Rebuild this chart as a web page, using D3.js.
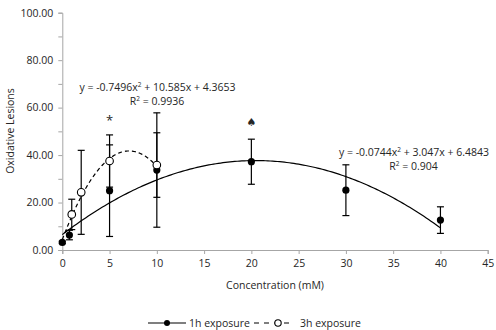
<!DOCTYPE html>
<html><head><meta charset="utf-8">
<script src="https://cdn.jsdelivr.net/npm/d3@7/dist/d3.min.js"></script>
<style>body{margin:0;background:#fff;} svg{display:block;} text{font-family:"Open Sans",sans-serif;fill:#262626;}</style>
</head><body><svg id="c" width="496" height="330"></svg>
<script>
// Data
const conc1h = [0, 0.75, 5, 10, 20, 30, 40];
const mean1h = [3.2, 6.3, 25.0, 33.7, 37.2, 25.2, 12.6];
const err1h  = [0.5, 2.0, 19.3, 24.1, 9.5, 10.7, 5.6];
const conc3h = [1, 2, 5, 10];
const mean3h = [15.0, 24.3, 37.5, 35.8];
const err3h  = [6.4, 17.7, 11.0, 13.6];
const fit1h = [-0.0744, 3.047, 6.4843];   // a, b, c
const fit3h = [-0.7496, 10.585, 4.3653];
const yTicks = [0, 10, 20, 30, 40, 50, 60, 70, 80, 90, 100];
const xTicks = [0, 5, 10, 15, 20, 25, 30, 35, 40, 45];
const labels = {
  eq3h: "y = -0.7496x² + 10.585x + 4.3653", r3h: "R² = 0.9936",
  eq1h: "y = -0.0744x² + 3.047x + 6.4843", r1h: "R² = 0.904",
  xTitle: "Concentration (mM)", yTitle: "Oxidative Lesions",
  leg1: "1h exposure", leg3: "3h exposure"
};

const svg = d3.select("#c");
const x = d3.scaleLinear().domain([0, 45]).range([62.3, 487.7]);
const y = d3.scaleLinear().domain([0, 100]).range([250, 12.7]);
const axisCol = "#a6a6a6";

// Y axis
const ya = svg.append("g").attr("transform", `translate(${x(0)},0)`)
  .call(d3.axisLeft(y).tickValues(yTicks).tickSize(4).tickFormat(d => d % 20 === 0 ? d3.format(".2f")(d) : ""));
ya.select(".domain").attr("stroke", axisCol);
ya.selectAll(".tick line").attr("stroke", axisCol);
ya.selectAll(".tick text").attr("font-size", 10.5).attr("x", -9).style("font-family", "'Open Sans',sans-serif").attr("fill", "#262626");

// X axis
const xa = svg.append("g").attr("transform", `translate(0,${y(0)})`)
  .call(d3.axisBottom(x).tickValues(xTicks).tickSize(4).tickFormat(d3.format("d")));
xa.select(".domain").attr("stroke", axisCol);
xa.selectAll(".tick line").attr("stroke", axisCol);
xa.selectAll(".tick text").attr("font-size", 10.5).attr("y", 10).style("font-family", "'Open Sans',sans-serif").attr("fill", "#262626");

// Fit curves
const poly = (f, t) => f[0]*t*t + f[1]*t + f[2];
const line = d3.line().x(d => x(d[0])).y(d => y(d[1]));
svg.append("path").attr("d", line(d3.range(0, 40.01, 0.25).map(t => [t, poly(fit1h, t)])))
  .attr("fill", "none").attr("stroke", "#000").attr("stroke-width", 1.2);
svg.append("path").attr("d", line(d3.range(0, 10.01, 0.1).map(t => [t, poly(fit3h, t)])))
  .attr("fill", "none").attr("stroke", "#000").attr("stroke-width", 1.2).attr("stroke-dasharray", "4,3");

// Error bars
function errBars(cs, ms, es) {
  const g = svg.append("g").attr("stroke", "#000").attr("stroke-width", 1.2);
  cs.forEach((c, i) => {
    const cx = x(c), t = y(ms[i] + es[i]), b = y(ms[i] - es[i]);
    g.append("line").attr("x1", cx).attr("x2", cx).attr("y1", t).attr("y2", b);
    g.append("line").attr("x1", cx-3.5).attr("x2", cx+3.5).attr("y1", t).attr("y2", t);
    g.append("line").attr("x1", cx-3.5).attr("x2", cx+3.5).attr("y1", b).attr("y2", b);
  });
}
errBars(conc1h, mean1h, err1h);
errBars(conc3h, mean3h, err3h);

// Markers
svg.append("g").selectAll("circle").data(conc1h).join("circle")
  .attr("cx", d => x(d)).attr("cy", (d, i) => y(mean1h[i])).attr("r", 3.6).attr("fill", "#000");
svg.append("g").selectAll("circle").data(conc3h).join("circle")
  .attr("cx", d => x(d)).attr("cy", (d, i) => y(mean3h[i])).attr("r", 3.8)
  .attr("fill", "#fff").attr("stroke", "#000").attr("stroke-width", 1.1);

// Annotations
function eq(txt, cx, cy) {
  const parts = txt.split("²");
  const t = svg.append("text").attr("x", cx).attr("y", cy).attr("text-anchor", "middle").attr("font-size", 10.5);
  parts.forEach((p, i) => {
    const s = t.append("tspan").text(p);
    if (i > 0) s.attr("dy", 4);
    if (i < parts.length - 1) t.append("tspan").text("2").attr("font-size", 6.5).attr("dy", -4);
  });
}
eq(labels.eq3h, 157.5, 90.5);
eq(labels.r3h, 157, 105);
eq(labels.eq1h, 414, 155.5);
eq(labels.r1h, 413.5, 170);
svg.append("text").attr("x", x(5)).attr("y", 125).attr("text-anchor", "middle").attr("font-size", 13).text("*");
svg.append("text").attr("x", x(20)).attr("y", 126).attr("text-anchor", "middle").attr("font-size", 11).style("font-family","'DejaVu Sans',sans-serif").text("♠");

// Titles
svg.append("text").attr("x", 275).attr("y", 289).attr("text-anchor", "middle").attr("font-size", 10.5).text(labels.xTitle);
svg.append("text").attr("transform", "translate(14,131) rotate(-90)").attr("text-anchor", "middle").attr("font-size", 10.5).text(labels.yTitle);

// Legend
const lg = svg.append("g");
lg.append("line").attr("x1", 148).attr("x2", 186).attr("y1", 323).attr("y2", 323).attr("stroke", "#000").attr("stroke-width", 1.2);
lg.append("circle").attr("cx", 167).attr("cy", 323).attr("r", 3).attr("fill", "#000");
lg.append("text").attr("x", 189).attr("y", 327).attr("font-size", 10.5).text(labels.leg1);
lg.append("line").attr("x1", 254).attr("x2", 294).attr("y1", 323).attr("y2", 323).attr("stroke", "#000").attr("stroke-width", 1.2).attr("stroke-dasharray", "5,5");
lg.append("circle").attr("cx", 278).attr("cy", 323).attr("r", 3.2).attr("fill", "#fff").attr("stroke", "#000").attr("stroke-width", 1.1);
lg.append("text").attr("x", 300).attr("y", 327).attr("font-size", 10.5).text(labels.leg3);
</script></body></html>
